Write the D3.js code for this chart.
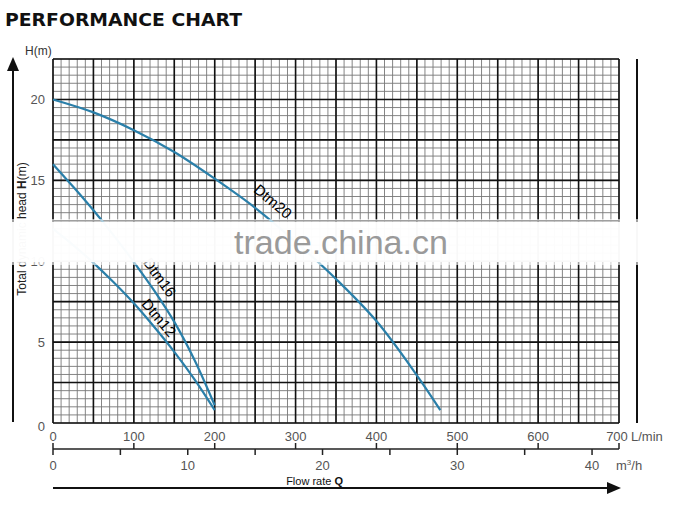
<!DOCTYPE html>
<html>
<head>
<meta charset="utf-8">
<script src="https://cdn.jsdelivr.net/npm/d3@7"></script>
<style>
  body { margin: 0; background: #fff; }
  svg { display: block; font-family: "Liberation Sans", Arial, sans-serif; }
</style>
</head>
<body>
<script>
// flow in L/min, head in m
const dtm20Q = [0, 50, 100, 150, 200, 250, 300, 350, 400, 450, 479];
const dtm20H = [20, 19.2, 18.1, 16.75, 15.1, 13.3, 11.2, 8.9, 6.3, 2.95, 0.8];
const dtm16Q = [0, 25, 50, 75, 100, 125, 150, 175, 200];
const dtm16H = [16, 14.6, 13.15, 11.6, 9.95, 8.2, 6.25, 3.9, 1.1];
const dtm12Q = [0, 25, 50, 75, 100, 125, 150, 175, 200];
const dtm12H = [12, 11.0, 9.9, 8.7, 7.4, 5.95, 4.4, 2.7, 0.8];

const lminTicks = [0, 100, 200, 300, 400, 500, 600, 700];
const m3hTicks = [0, 5, 10, 15, 20, 25, 30, 35, 40];
const m3hLabels = [0, 10, 20, 30, 40];
const headTicks = [0, 5, 10, 15, 20];

const w = 681, h = 511;
const svg = d3.select("body").append("svg").attr("width", w).attr("height", h);

const x = d3.scaleLinear().domain([0, 700]).range([53, 619]);
const y = d3.scaleLinear().domain([0, 22.5]).range([423, 59]);
const xm = d3.scaleLinear().domain([0, 42]).range([53, 619]); // m3/h

// title
svg.append("text")
   .attr("x", 5).attr("y", 26)
   .attr("font-family", "DejaVu Sans, sans-serif")
   .attr("font-weight", "bold").attr("font-size", 18)
   .attr("textLength", 237).attr("lengthAdjust", "spacingAndGlyphs")
   .attr("fill", "#111")
   .text("PERFORMANCE CHART");

// grid
const grid = svg.append("g");
grid.selectAll(".vmin").data(d3.range(0, 701, 10)).enter().append("line")
    .attr("x1", d => x(d)).attr("x2", d => x(d))
    .attr("y1", y(22.5)).attr("y2", y(0))
    .attr("stroke", "#777").attr("stroke-width", 0.9);
grid.selectAll(".hmin").data(d3.range(0, 22.51, 0.5)).enter().append("line")
    .attr("y1", d => y(d)).attr("y2", d => y(d))
    .attr("x1", x(0)).attr("x2", x(700))
    .attr("stroke", "#777").attr("stroke-width", 0.9);
grid.selectAll(".vmaj").data(d3.range(0, 701, 50)).enter().append("line")
    .attr("x1", d => x(d)).attr("x2", d => x(d))
    .attr("y1", y(22.5)).attr("y2", y(0))
    .attr("stroke", "#111").attr("stroke-width", 1.6);
grid.selectAll(".hmaj").data(d3.range(0, 22.51, 2.5)).enter().append("line")
    .attr("y1", d => y(d)).attr("y2", d => y(d))
    .attr("x1", x(0)).attr("x2", x(700))
    .attr("stroke", "#111").attr("stroke-width", 1.6);

// right hand separate bar
svg.append("line").attr("x1", 637).attr("x2", 637)
   .attr("y1", y(22.5)).attr("y2", y(0))
   .attr("stroke", "#111").attr("stroke-width", 2);

// curves
const line = d3.line().x(d => x(d[0])).y(d => y(d[1])).curve(d3.curveCatmullRom);
const curves = [
  { q: dtm20Q, h: dtm20H },
  { q: dtm16Q, h: dtm16H },
  { q: dtm12Q, h: dtm12H }
];
svg.selectAll(".curve").data(curves).enter().append("path")
   .attr("d", c => line(c.q.map((q, i) => [q, c.h[i]])))
   .attr("fill", "none").attr("stroke", "#2a7fa9").attr("stroke-width", 2.2);

// curve labels
const labels = [
  { t: "Dtm20", q: 272, hh: 13.7, r: 40 },
  { t: "Dtm16", q: 132, hh: 9.0, r: 54 },
  { t: "Dtm12", q: 131, hh: 6.5, r: 50 }
];
svg.selectAll(".lbl").data(labels).enter().append("text")
   .attr("transform", d => `translate(${x(d.q)},${y(d.hh)}) rotate(${d.r})`)
   .attr("text-anchor", "middle").attr("dy", "0.35em")
   .attr("font-size", 15).attr("fill", "#000")
   .text(d => d.t);

// y axis arrow
svg.append("line").attr("x1", 13).attr("x2", 13).attr("y1", 68).attr("y2", 422)
   .attr("stroke", "#111").attr("stroke-width", 2);
svg.append("path").attr("d", "M13,57 L7,71 L19,71 Z").attr("fill", "#111");

svg.selectAll(".ytl").data(headTicks).enter().append("text")
   .attr("x", 45).attr("y", d => y(d) + (d === 0 ? 3 : 0))
   .attr("dy", "0.35em").attr("text-anchor", "end")
   .attr("font-size", 13).attr("fill", "#555")
   .text(d => d);

svg.append("text").attr("x", 25).attr("y", 55)
   .attr("font-size", 12).attr("fill", "#333").text("H(m)");

const ylab = svg.append("text")
   .attr("transform", "translate(26,229) rotate(-90)")
   .attr("text-anchor", "middle")
   .attr("font-size", 12).attr("fill", "#222");
ylab.append("tspan").text("Total dynamic head ");
ylab.append("tspan").attr("font-weight", "bold").text("H");
ylab.append("tspan").text("(m)");

// L/min labels
svg.selectAll(".xtl").data(lminTicks).enter().append("text")
   .attr("x", d => x(d) - (d === 700 ? 2 : 0)).attr("y", 441)
   .attr("text-anchor", "middle")
   .attr("font-size", 13).attr("fill", "#555")
   .text(d => d);
svg.append("text").attr("x", 631).attr("y", 441)
   .attr("font-size", 13).attr("fill", "#555").text("L/min");

// dual axis line
svg.append("line").attr("x1", x(0)).attr("x2", x(700)).attr("y1", 449).attr("y2", 449)
   .attr("stroke", "#222").attr("stroke-width", 1.5);
svg.selectAll(".tkup").data(lminTicks).enter().append("line")
   .attr("x1", d => x(d)).attr("x2", d => x(d)).attr("y1", 443).attr("y2", 449)
   .attr("stroke", "#222").attr("stroke-width", 1.5);
svg.selectAll(".tkdn").data(m3hTicks).enter().append("line")
   .attr("x1", d => xm(d)).attr("x2", d => xm(d)).attr("y1", 449).attr("y2", 455)
   .attr("stroke", "#222").attr("stroke-width", 1.5);
svg.selectAll(".mtl").data(m3hLabels).enter().append("text")
   .attr("x", d => xm(d)).attr("y", 470)
   .attr("text-anchor", "middle")
   .attr("font-size", 13).attr("fill", "#555")
   .text(d => d);
const m3 = svg.append("text").attr("x", 616).attr("y", 470)
   .attr("font-size", 13).attr("fill", "#555");
m3.append("tspan").text("m");
m3.append("tspan").attr("font-size", 8).attr("dy", -5).text("3");
m3.append("tspan").attr("dy", 5).text("/h");

// flow rate label and arrow
const fr = svg.append("text").attr("x", 343).attr("y", 485)
   .attr("text-anchor", "end").attr("font-size", 11).attr("fill", "#111");
fr.append("tspan").text("Flow rate ");
fr.append("tspan").attr("font-weight", "bold").text("Q");

svg.append("line").attr("x1", x(0)).attr("x2", 610).attr("y1", 488).attr("y2", 488)
   .attr("stroke", "#111").attr("stroke-width", 2);
svg.append("path").attr("d", "M621,488 L607,482 L607,494 Z").attr("fill", "#111");

// watermark band, soft edges
const band = svg.append("g");
band.append("rect").attr("x", 4).attr("y", 219).attr("width", 677).attr("height", 46)
    .attr("fill", "#fff").attr("opacity", 0.6);
band.append("rect").attr("x", 10).attr("y", 222).attr("width", 671).attr("height", 40)
    .attr("fill", "#fff").attr("opacity", 0.93);
band.append("text").attr("x", 234).attr("y", 254)
    .attr("font-size", 33).attr("fill", "#9a9a9a")
    .attr("textLength", 214).attr("lengthAdjust", "spacingAndGlyphs")
    .text("trade.china.cn");
</script>
</body>
</html>
